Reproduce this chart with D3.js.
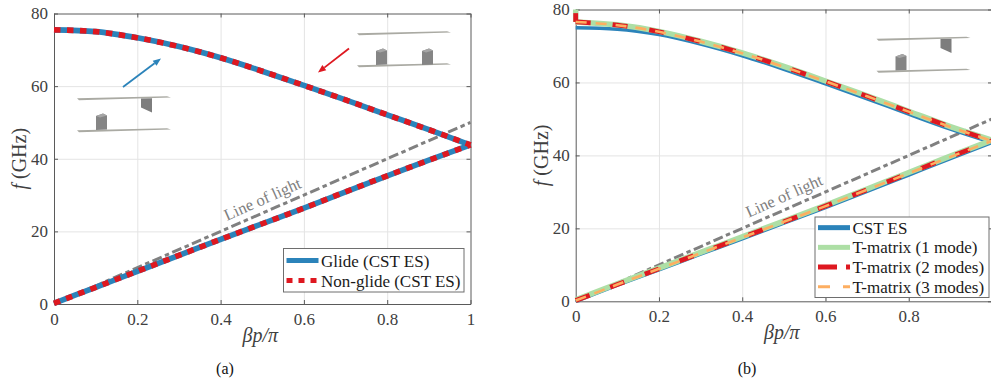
<!DOCTYPE html>
<html lang="en">
<head>
<meta charset="UTF-8">
<title>Dispersion diagrams</title>
<script src="https://d3js.org/d3.v7.min.js"></script>
<style>
    html, body { margin: 0; padding: 0; background: #fff; overflow: hidden; }
    text { font-family: "Liberation Serif", serif; }
    .tick text { font-size: 17px; fill: #404040; }
    .grid line { stroke: #e4e4e4; stroke-width: 1px; }
    .grid path { display: none; }
    .line { fill: none; }
</style>
</head>
<body>
<script>
    // Values
    var betaTicks = [0, 0.2, 0.4, 0.6, 0.8, 1];
    var fTicks = [0, 20, 40, 60, 80];

    var lowerBeta = [0, 0.1, 0.2, 0.3, 0.4, 0.5, 0.6, 0.7, 0.8, 0.9, 1];
    var upperBeta = [0, 0.1, 0.2, 0.3, 0.4, 0.5, 0.6, 0.7, 0.8, 0.9, 1];
    var lightBeta = [0, 1];
    var lightF = [0, 50];

    // panel (a)
    var glideLower = [0.2, 4.6, 9.0, 13.4, 17.8, 22.1, 26.4, 30.9, 35.3, 39.6, 43.8];
    var glideUpper = [75.5, 75.0, 73.3, 70.9, 67.8, 64.1, 60.2, 56.2, 52.1, 48.0, 43.8];

    // panel (b)
    var cstLower = [0, 4.4, 8.6, 12.9, 17.1, 21.4, 25.7, 30.1, 34.6, 39.1, 43.5];
    var cstUpper = [75.0, 74.6, 73.1, 70.5, 67.3, 63.6, 59.6, 55.5, 51.3, 47.2, 43.5];
    var tm1Lower = [0.4, 4.8, 9.1, 13.4, 17.7, 22.0, 26.3, 30.8, 35.3, 39.8, 44.2];
    var tm1Upper = [76.6, 75.8, 74.0, 71.3, 68.1, 64.4, 60.4, 56.3, 52.1, 47.9, 44.2];
    var tm1Start = [80, 76.6];
    var tm2Lower = [0.2, 4.6, 8.9, 13.2, 17.5, 21.8, 26.1, 30.6, 35.1, 39.6, 44.0];
    var tm2Upper = [76.6, 75.7, 73.9, 71.2, 68.0, 64.3, 60.3, 56.2, 52.0, 47.8, 44.0];
    var tm2Start = [79, 76.6];
    var tm3Lower = [0.2, 4.6, 8.9, 13.2, 17.5, 21.8, 26.1, 30.6, 35.1, 39.6, 44.0];
    var tm3Upper = [76.6, 75.7, 73.9, 71.2, 68.0, 64.3, 60.3, 56.2, 52.0, 47.8, 44.0];

    var legendA = ["Glide (CST ES)", "Non-glide (CST ES)"];
    var legendB = ["CST ES", "T-matrix (1 mode)", "T-matrix (2 modes)", "T-matrix (3 modes)"];

    var blue = "#2b83ba", red = "#de1820", green = "#addfa5", orange = "#fdae61", gray = "#808080";

    var svg = d3.select("body").append("svg")
        .attr("width", 991)
        .attr("height", 385);

    function zip(xs, ys) {
        return xs.map(function(v, i) { return [v, ys[i]]; });
    }

    // Set up one panel: scales, grid, box, ticks and labels
    function panel(box, caption, captionX, xLabels) {
        var x = d3.scaleLinear().domain([0, 1]).range([box.left, box.right]);
        var y = d3.scaleLinear().domain([0, 80]).range([box.bottom, box.top]);
        var g = svg.append("g");

        g.append("g").attr("class", "grid")
            .attr("transform", "translate(0," + box.bottom + ")")
            .call(d3.axisBottom(x).tickValues(betaTicks.slice(1, -1))
                .tickSize(box.top - box.bottom).tickFormat(""));
        g.append("g").attr("class", "grid")
            .attr("transform", "translate(" + box.left + ",0)")
            .call(d3.axisLeft(y).tickValues(fTicks.slice(1, -1))
                .tickSize(box.left - box.right).tickFormat(""));

        var ln = d3.line()
            .x(function(d) { return x(d[0]); })
            .y(function(d) { return y(d[1]); })
            .curve(d3.curveMonotoneX);

        // the box goes under the curves
        var a = g.append("g").attr("class", "axes");
        a.append("g").attr("transform", "translate(0," + box.bottom + ")")
            .call(d3.axisBottom(x).tickValues(betaTicks).tickSizeInner(-4).tickSizeOuter(0).tickPadding(9)
                .tickFormat(function(d) { return xLabels.indexOf(d) >= 0 ? d3.format("~g")(d) : ""; }));
        a.append("g").attr("transform", "translate(" + box.left + ",0)")
            .call(d3.axisLeft(y).tickValues(fTicks).tickSizeInner(-4).tickSizeOuter(0).tickPadding(6));
        a.append("g").attr("transform", "translate(0," + box.top + ")")
            .call(d3.axisTop(x).tickValues(betaTicks).tickSizeInner(-4).tickSizeOuter(0).tickFormat(""));
        a.append("g").attr("transform", "translate(" + box.right + ",0)")
            .call(d3.axisRight(y).tickValues(fTicks).tickSizeInner(-4).tickSizeOuter(0).tickFormat(""));
        a.selectAll("path.domain, line").attr("stroke", "#5a5a5a").attr("stroke-width", 1);

        // x label, y label and caption
        svg.append("text")
            .attr("x", box.left + (box.right - box.left) / 2 - 2)
            .attr("y", box.bottom + 38)
            .attr("text-anchor", "middle")
            .attr("font-size", 20)
            .attr("font-style", "italic")
            .attr("fill", "#404040")
            .text("\u03B2p/\u03C0");
        var yl = svg.append("text")
            .attr("transform", "translate(" + (box.left - 28) + "," + (box.top + (box.bottom - box.top) / 2) + ") rotate(-90)")
            .attr("text-anchor", "middle")
            .attr("font-size", 20)
            .attr("fill", "#404040");
        yl.append("tspan").attr("font-style", "italic").text("f");
        yl.append("tspan").text(" (GHz)");
        svg.append("text")
            .attr("x", captionX)
            .attr("y", 374)
            .attr("text-anchor", "middle")
            .attr("font-size", 16)
            .attr("fill", "#111")
            .text(caption);

        return {x: x, y: y, g: g, ln: ln};
    }

    function curve(p, pts, color, width, dash) {
        p.g.append("path")
            .attr("class", "line")
            .attr("d", p.ln(pts))
            .attr("stroke", color)
            .attr("stroke-width", width)
            .attr("stroke-dasharray", dash || null);
    }

    function lightLine(p) {
        curve(p, zip(lightBeta, lightF), gray, 3, "10,3.5,4.5,3.5");
        // label sits just above the line, parallel to it
        p.g.append("text")
            .attr("transform", "translate(" + p.x(0.506) + "," + p.y(27.5) + ") rotate(-24)")
            .attr("text-anchor", "middle")
            .attr("font-size", 16.5)
            .attr("fill", "#808080")
            .text("Line of light");
    }

    // Small sketch of the two plates with their posts
    function inset(left, top, upFins, downPosts) {
        var g = svg.append("g").attr("transform", "translate(" + left + "," + top + ")");
        [0, 32].forEach(function(py) {
            g.append("polygon")
                .attr("points", [[0, py + 0.2], [90, py - 1.8], [94, py - 0.4], [2, py + 2.2]].join(" "))
                .attr("fill", "#aaaaa3");
        });
        upFins.forEach(function(px) {
            g.append("polygon")
                .attr("points", [[px, 0.5], [px + 11, 0.3], [px + 11, 14.5], [px, 9.5]].join(" "))
                .attr("fill", "#7d7d7d");
        });
        downPosts.forEach(function(px) {
            g.append("polygon")
                .attr("points", [[px, 18], [px + 7, 15.5], [px + 11, 17.5], [px + 11, 31.5], [px, 32]].join(" "))
                .attr("fill", "#858585");
            g.append("polygon")
                .attr("points", [[px, 18], [px + 7, 15.5], [px + 11, 17.5], [px + 4, 19.5]].join(" "))
                .attr("fill", "#a6a6a6");
        });
    }

    function arrow(x1, y1, x2, y2, color) {
        var a = Math.atan2(y2 - y1, x2 - x1), s = 8, w = 3.2;
        var bx = x2 - s * Math.cos(a), by = y2 - s * Math.sin(a);
        svg.append("line")
            .attr("x1", x1).attr("y1", y1).attr("x2", bx).attr("y2", by)
            .attr("stroke", color).attr("stroke-width", 1.8);
        svg.append("polygon")
            .attr("points", [[x2, y2],
                [bx - w * Math.sin(a), by + w * Math.cos(a)],
                [bx + w * Math.sin(a), by - w * Math.cos(a)]].join(" "))
            .attr("fill", color);
    }

    function legend(box, labels, styles, rowH) {
        var g = svg.append("g");
        g.append("rect")
            .attr("x", box.x).attr("y", box.y)
            .attr("width", box.w).attr("height", box.h)
            .attr("fill", "#fff").attr("stroke", "#6e6e6e").attr("stroke-width", 1);
        labels.forEach(function(t, i) {
            var cy = box.y + box.pad + rowH * (i + 0.5);
            styles[i].forEach(function(s) {
                g.append("line")
                    .attr("x1", box.x + 3).attr("x2", box.x + 35)
                    .attr("y1", cy).attr("y2", cy)
                    .attr("stroke", s.color).attr("stroke-width", s.width)
                    .attr("stroke-dasharray", s.dash || null);
            });
            g.append("text")
                .attr("x", box.x + 37.5).attr("y", cy + 6)
                .attr("font-size", 17)
                .attr("fill", "#1a1a1a")
                .text(t);
        });
    }

    // Panel (a)
    var pa = panel({left: 54, right: 470.5, top: 13.5, bottom: 304}, "(a)", 225, betaTicks);
    lightLine(pa);
    curve(pa, zip(upperBeta, glideUpper), blue, 5.6);
    curve(pa, zip(lowerBeta, glideLower), blue, 5.6);
    curve(pa, zip(upperBeta, glideUpper), red, 5.6, "6.5,6.5");
    curve(pa, zip(lowerBeta, glideLower), red, 5.6, "6.5,6.5");
    inset(77, 98, [64], [19]);
    inset(357, 33, [], [19, 65]);
    arrow(123, 87, 161, 58.5, blue);
    arrow(349, 48.5, 318, 72.5, red);
    legend({x: 283.5, y: 248.5, w: 180.5, h: 43.5, pad: 2}, legendA, [
        [{color: blue, width: 5}],
        [{color: red, width: 5, dash: "6,6"}]
    ], 20);

    // Panel (b): the label of the last x tick falls outside the page
    var pb = panel({left: 575.7, right: 992, top: 9.5, bottom: 301.3}, "(b)", 747, betaTicks.slice(0, -1));
    lightLine(pb);
    curve(pb, zip(upperBeta, cstUpper), blue, 3.4);
    curve(pb, zip(lowerBeta, cstLower), blue, 3.4);
    curve(pb, zip(upperBeta, tm1Upper), green, 5.5);
    curve(pb, zip(lowerBeta, tm1Lower), green, 5.5);
    curve(pb, zip([0, 0], tm1Start), green, 5.5);
    curve(pb, zip(upperBeta, tm2Upper), red, 4.8, "15,22");
    curve(pb, zip(lowerBeta, tm2Lower), red, 4.8, "15,22");
    curve(pb, zip([0, 0], tm2Start), red, 4.8);
    curve(pb, zip(upperBeta, tm3Upper), orange, 2.6, "11,9");
    curve(pb, zip(lowerBeta, tm3Lower), orange, 2.6, "11,9");
    inset(876.5, 38.5, [64], [19]);
    legend({x: 815, y: 217, w: 174, h: 80.5, pad: 0.8}, legendB, [
        [{color: blue, width: 5}],
        [{color: green, width: 5}],
        [{color: red, width: 5, dash: "19,9,3,0"}],
        [{color: orange, width: 3, dash: "12,13"}]
    ], 19.7);
</script>
</body>
</html>
